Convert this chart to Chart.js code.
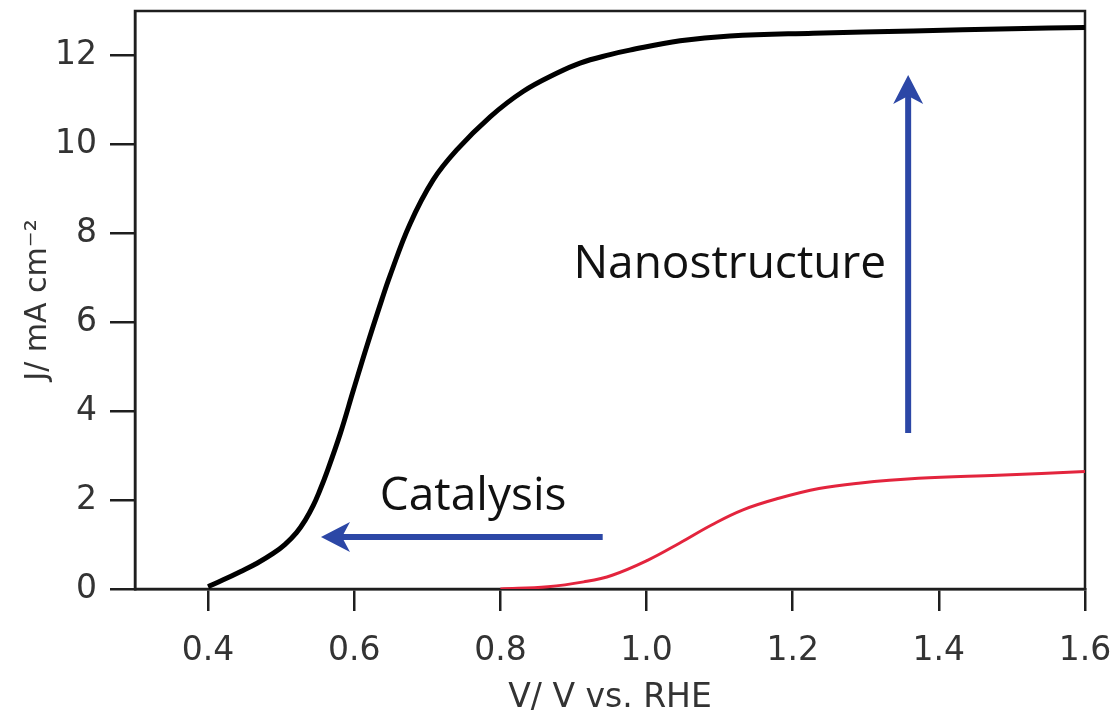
<!DOCTYPE html>
<html>
<head>
<meta charset="utf-8">
<script src="https://cdn.jsdelivr.net/npm/chart.js@4.4.1/dist/chart.umd.min.js"></script>
<style>
  html, body { margin: 0; padding: 0; background: #ffffff; }
  #wrap { width: 1115px; height: 718px; }
</style>
</head>
<body>
<div id="wrap"><canvas id="c" width="1115" height="718"></canvas></div>
<script>
// ---- data ----
const vBlack = [0.40, 0.42, 0.444, 0.467, 0.489, 0.505, 0.521, 0.533, 0.544, 0.553, 0.562, 0.581, 0.599, 0.617, 0.638, 0.649, 0.676, 0.708, 0.740, 0.786, 0.831, 0.877, 0.909, 0.950, 0.977, 1.046, 1.114, 1.228, 1.365, 1.50, 1.60];
const jBlack = [0.05, 0.20, 0.39, 0.58, 0.80, 1.00, 1.27, 1.55, 1.88, 2.22, 2.60, 3.50, 4.48, 5.45, 6.52, 7.05, 8.20, 9.20, 9.87, 10.62, 11.19, 11.60, 11.83, 12.02, 12.12, 12.33, 12.44, 12.50, 12.55, 12.60, 12.63];

const vRed = [0.80, 0.865, 0.914, 0.953, 1.002, 1.045, 1.089, 1.132, 1.181, 1.236, 1.29, 1.372, 1.481, 1.60];
const jRed = [0.00, 0.05, 0.16, 0.31, 0.65, 1.03, 1.44, 1.78, 2.04, 2.26, 2.38, 2.49, 2.56, 2.64];

const xTickValues = [0.4, 0.6, 0.8, 1.0, 1.2, 1.4, 1.6];
const yTickValues = [0, 2, 4, 6, 8, 10, 12];

const xTitle = 'V/ V vs. RHE';
const yTitle = 'J/ mA cm\u207B\u00B2';

// annotation texts and arrows, in data units
const annotTexts = ['Nanostructure', 'Catalysis'];
const annotTextV = [0.90, 0.635];
const annotTextJ = [7.0, 1.78];
const arrowFromV = [0.940, 1.358];
const arrowFromJ = [1.17, 3.51];
const arrowToV = [0.5545, 1.358];
const arrowToJ = [1.17, 11.56];

// ---- build ----
const toPts = (xs, ys) => xs.map((x, i) => ({ x: x, y: ys[i] }));

const AXIS = '#1e1e1e';
const TEXT = '#333333';
const ARROW = '#2c47a6';

const framePlugin = {
  id: 'frame',
  beforeDatasetsDraw(chart) {
    const { ctx, chartArea: a } = chart;
    ctx.save();
    ctx.strokeStyle = AXIS;
    ctx.lineWidth = 2.5;
    ctx.strokeRect(a.left, a.top, a.right - a.left, a.bottom - a.top);
    ctx.restore();
  }
};

function drawArrow(ctx, x1, y1, x2, y2) {
  const ang = Math.atan2(y2 - y1, x2 - x1);
  const headLen = 29, headHalf = 15, notch = 8;
  const bx = x2 - headLen * Math.cos(ang), by = y2 - headLen * Math.sin(ang);
  const nx = x2 - (headLen - notch) * Math.cos(ang), ny = y2 - (headLen - notch) * Math.sin(ang);
  ctx.save();
  ctx.strokeStyle = ARROW;
  ctx.fillStyle = ARROW;
  ctx.lineWidth = 6;
  ctx.lineCap = 'butt';
  ctx.beginPath();
  ctx.moveTo(x1, y1);
  ctx.lineTo(nx, ny);
  ctx.stroke();
  const px = -Math.sin(ang), py = Math.cos(ang);
  ctx.beginPath();
  ctx.moveTo(x2, y2);
  ctx.lineTo(bx + px * headHalf, by + py * headHalf);
  ctx.lineTo(nx, ny);
  ctx.lineTo(bx - px * headHalf, by - py * headHalf);
  ctx.closePath();
  ctx.fill();
  ctx.restore();
}

const annotPlugin = {
  id: 'annot',
  afterDatasetsDraw(chart) {
    const { ctx, scales: { x, y } } = chart;
    for (let i = 0; i < arrowFromV.length; i++) {
      drawArrow(ctx,
        x.getPixelForValue(arrowFromV[i]), y.getPixelForValue(arrowFromJ[i]),
        x.getPixelForValue(arrowToV[i]), y.getPixelForValue(arrowToJ[i]));
    }
    ctx.save();
    ctx.fillStyle = '#111111';
    ctx.font = '46px "Open Sans"';
    ctx.textAlign = 'left';
    ctx.textBaseline = 'alphabetic';
    for (let i = 0; i < annotTexts.length; i++) {
      ctx.fillText(annotTexts[i], x.getPixelForValue(annotTextV[i]), y.getPixelForValue(annotTextJ[i]));
    }
    ctx.restore();
  }
};

new Chart(document.getElementById('c'), {
  type: 'line',
  data: {
    datasets: [
      {
        data: toPts(vBlack, jBlack),
        borderColor: '#000000',
        borderWidth: 5,
        pointRadius: 0,
        tension: 0.4,
        fill: false
      },
      {
        data: toPts(vRed, jRed),
        borderColor: '#e3243d',
        borderWidth: 3,
        pointRadius: 0,
        tension: 0.4,
        fill: false
      }
    ]
  },
  options: {
    responsive: false,
    devicePixelRatio: 1,
    animation: false,
    layout: { padding: { top: 11, right: 30, left: 0, bottom: 0 } },
    plugins: { legend: { display: false }, tooltip: { enabled: false } },
    scales: {
      x: {
        type: 'linear',
        min: 0.3,
        max: 1.6,
        afterBuildTicks: s => { s.ticks = xTickValues.map(v => ({ value: v })); },
        afterFit: s => { s.height = 129; s.paddingLeft = 0; s.paddingRight = 0; },
        ticks: {
          callback: v => Number(v).toFixed(1),
          font: { family: 'DejaVu Sans', size: 33 },
          color: TEXT,
          padding: 21,
          maxRotation: 0,
          autoSkip: false
        },
        grid: { drawOnChartArea: false, drawTicks: true, tickLength: 22, tickWidth: 2.5, tickColor: AXIS, lineWidth: 2.5, color: AXIS },
        border: { display: true, color: AXIS, width: 2.5 },
        title: {
          display: true,
          text: xTitle,
          font: { family: 'DejaVu Sans', size: 33 },
          color: TEXT,
          padding: { top: -6, bottom: 0 }
        }
      },
      y: {
        type: 'linear',
        min: 0,
        max: 13,
        afterBuildTicks: s => { s.ticks = yTickValues.map(v => ({ value: v })); },
        afterFit: s => { s.width = 135; s.paddingTop = 0; s.paddingBottom = 0; },
        ticks: {
          callback: v => String(v),
          font: { family: 'DejaVu Sans', size: 33 },
          color: TEXT,
          padding: 13,
          autoSkip: false
        },
        grid: { drawOnChartArea: false, drawTicks: true, tickLength: 25, tickWidth: 2.5, tickColor: AXIS, lineWidth: 2.5, color: AXIS },
        border: { display: true, color: AXIS, width: 2.5 },
        title: {
          display: true,
          text: yTitle,
          font: { family: 'DejaVu Sans', size: 30 },
          color: TEXT,
          padding: { top: 20, bottom: 0 }
        }
      }
    }
  },
  plugins: [framePlugin, annotPlugin]
});
</script>
</body>
</html>
